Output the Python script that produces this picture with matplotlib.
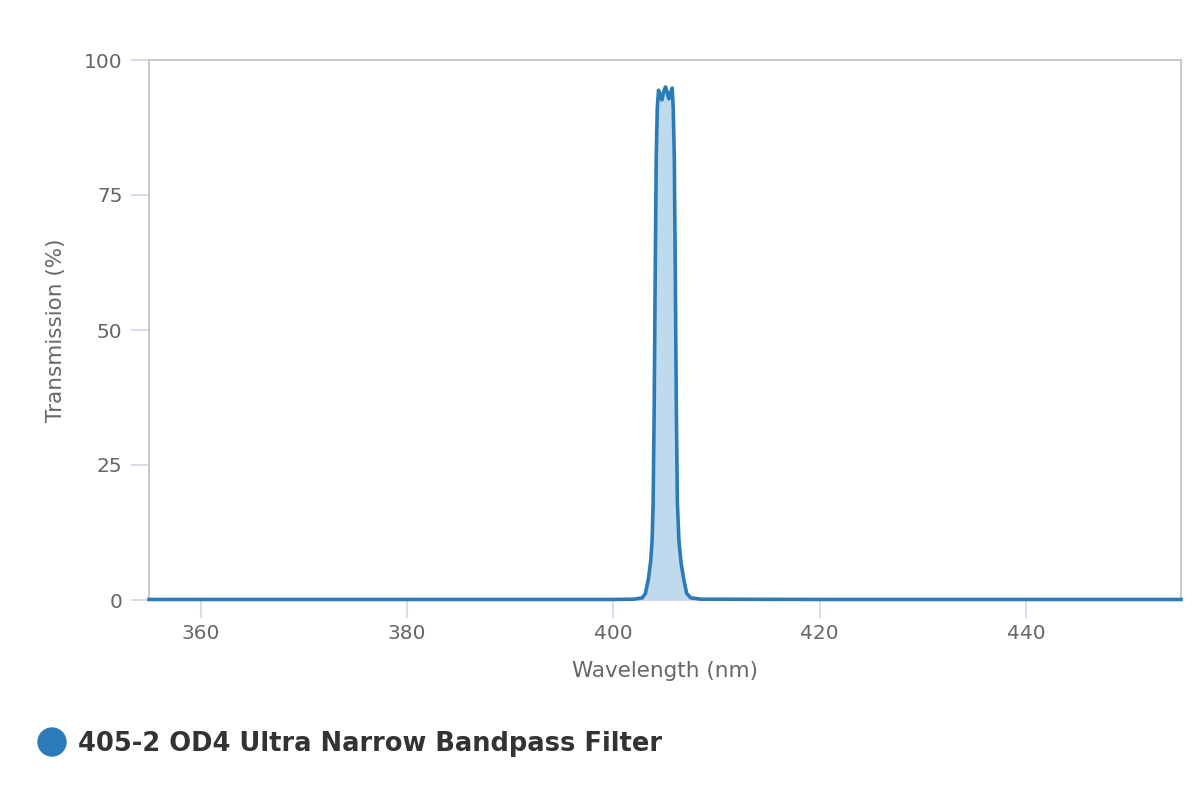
import matplotlib.pyplot as plt
from matplotlib.patches import Ellipse

# transmission curve (nm, %)
wavelength = [355, 380, 400, 402.0, 402.8, 403.1, 403.4, 403.6, 403.75, 403.85,
              403.95, 404.05, 404.15, 404.25, 404.37, 404.52, 404.7, 404.88,
              405.05, 405.22, 405.37, 405.55, 405.7, 405.8, 405.9, 406.0,
              406.1, 406.2, 406.35, 406.55, 406.8, 407.1, 407.5, 408.5, 420,
              440, 455]
transmission = [0.1, 0.1, 0.1, 0.15, 0.4, 1.2, 4, 7, 11, 18,
                35, 60, 82, 91, 94.4, 93.6, 92.6, 94.2,
                95.0, 94.0, 92.8, 94.0, 94.8, 91, 82, 60,
                35, 18, 11, 7, 4, 1.2, 0.4, 0.15, 0.1,
                0.1, 0.1]
x_ticks = [360, 380, 400, 420, 440]
y_ticks = [0, 25, 50, 75, 100]
series_name = "405-2 OD4 Ultra Narrow Bandpass Filter"

line_color = "#2b7bb9"
fill_color = "#bfdaec"
grey_text = "#666666"
tick_color = "#ccd6eb"

plt.rcParams["font.family"] = ["DejaVu Sans"]

fig = plt.figure(figsize=(12, 8), dpi=100)
ax = fig.add_axes([149 / 1200, 1 - 600 / 800, 1032 / 1200, 540 / 800])

ax.fill_between(wavelength, transmission, 0, color=fill_color, lw=0)
ax.plot(wavelength, transmission, color=line_color, lw=2.6,
        solid_joinstyle="round", zorder=3, clip_on=False)

ax.set_xlim(355, 455)
ax.set_ylim(0, 100)
ax.set_xticks(x_ticks)
ax.set_yticks(y_ticks)

for side in ("left", "top", "right"):
    ax.spines[side].set_color("#c0c0c0")
    ax.spines[side].set_linewidth(1.2)
ax.spines["bottom"].set_color(tick_color)
ax.spines["bottom"].set_linewidth(1.2)

ax.tick_params(axis="both", colors=tick_color, labelcolor=grey_text,
               labelsize=14.5, length=13, width=1.2)
ax.tick_params(axis="x", pad=4)
ax.tick_params(axis="y", pad=6)

ax.set_xlabel("Wavelength (nm)", color=grey_text, fontsize=15.5, labelpad=13)
ax.set_ylabel("Transmission (%)", color=grey_text, fontsize=15.5, labelpad=13)

# legend drawn in figure coordinates like the original
fig.patches.append(Ellipse((52 / 1200, 1 - 742 / 800), 28 / 1200, 28 / 800,
                           transform=fig.transFigure, color=line_color))
fig.text(78 / 1200, 1 - 744 / 800, series_name, fontsize=18.5,
         fontweight="bold", color="#333333", va="center", ha="left")

fig.savefig("out.png", dpi=100)
